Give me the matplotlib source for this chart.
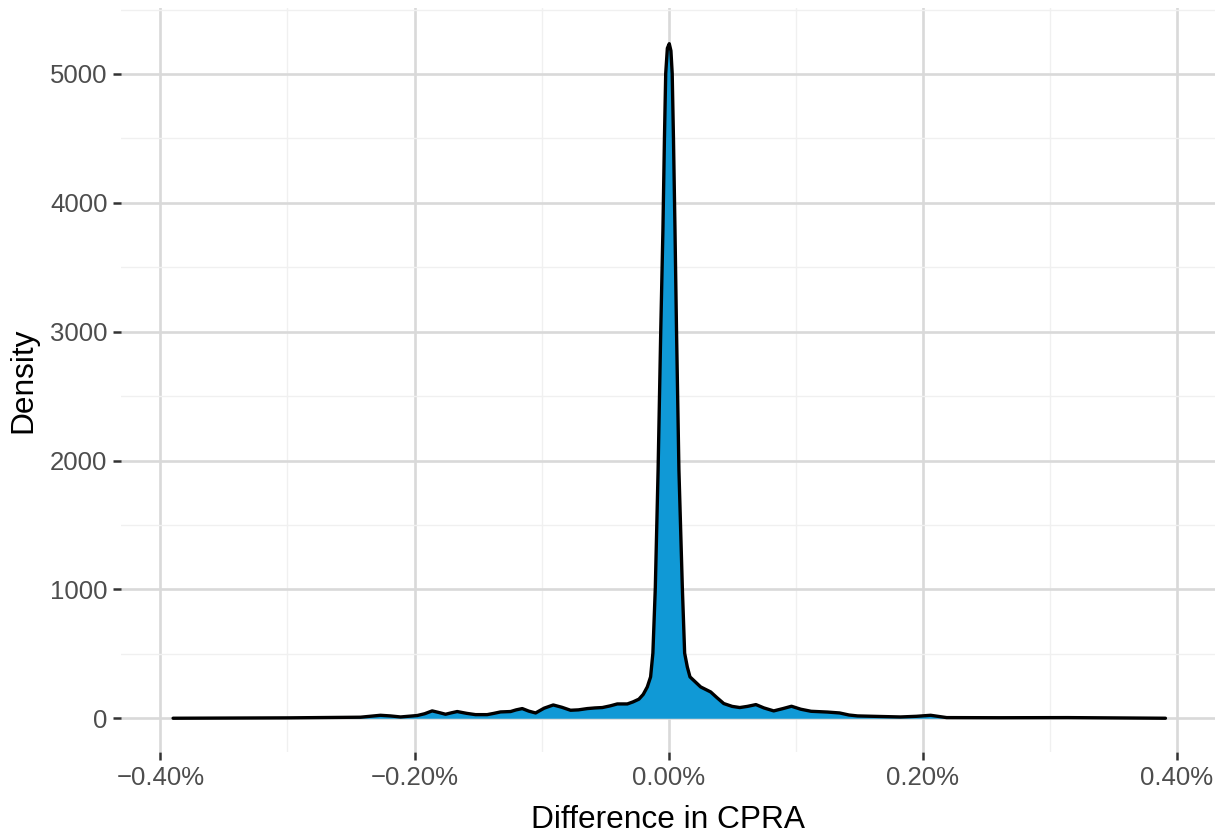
import numpy as np
import matplotlib
matplotlib.use('Agg')
import matplotlib.pyplot as plt
from matplotlib.ticker import FixedLocator, FuncFormatter

plt.rcParams['font.family'] = ['Liberation Sans', 'DejaVu Sans']

# Density curve (x in percent, y = density)
diff_pct = [-0.3900, -0.3000, -0.2425, -0.2268, -0.2190, -0.2110, -0.1979, -0.1920,
            -0.1861, -0.1810, -0.1756, -0.1710, -0.1664, -0.1590, -0.1520, -0.1428,
            -0.1375, -0.1323, -0.1244, -0.1200, -0.1152, -0.1100, -0.1047, -0.0980,
            -0.0908, -0.0840, -0.0772, -0.0710, -0.0640, -0.0580, -0.0522, -0.0460,
            -0.0404, -0.0325, -0.0280, -0.0234, -0.0200, -0.0168, -0.0142, -0.0124,
            -0.0105, -0.0083, -0.0062, -0.0045, -0.0033, -0.0023, -0.0010, 0.0005,
            0.0018, 0.0028, 0.0038, 0.0050, 0.0062, 0.0081, 0.0108, 0.0126,
            0.0147, 0.0168, 0.0252, 0.0331, 0.0380, 0.0434, 0.0500, 0.0560,
            0.0620, 0.0687, 0.0750, 0.0827, 0.0900, 0.0967, 0.1040, 0.1121,
            0.1250, 0.1346, 0.1420, 0.1487, 0.1650, 0.1824, 0.1950, 0.2062,
            0.2188, 0.2600, 0.3140, 0.3910]
density = [0, 3, 8, 23, 18, 10, 21, 35,
           57, 45, 31, 42, 52, 38, 28, 28,
           38, 49, 52, 65, 75, 55, 41, 78,
           103, 85, 62, 65, 75, 80, 83, 96,
           111, 111, 127, 148, 185, 243, 321, 505,
           1009, 1925, 3012, 3789, 4503, 5005, 5200, 5235,
           5180, 5005, 4503, 3789, 3012, 1925, 1009, 505,
           398, 321, 243, 204, 160, 114, 92, 83,
           92, 106, 80, 57, 75, 93, 70, 54,
           48, 41, 25, 18, 14, 10, 15, 23,
           5, 4, 5, 0]

x_ticks = [-0.4, -0.2, 0.0, 0.2, 0.4]
x_minor = [-0.3, -0.1, 0.1, 0.3]
y_ticks = [0, 1000, 2000, 3000, 4000, 5000]
y_minor = [500, 1500, 2500, 3500, 4500, 5500]

fig = plt.figure(figsize=(12.25, 8.35), dpi=100)
ax = fig.add_axes([121 / 1225, (835 - 752) / 835, (1215 - 121) / 1225, (752 - 8.4) / 835])

ax.fill_between(diff_pct, density, 0, color='#1099d6', linewidth=0, zorder=2)
ax.plot(diff_pct, density, color='black', linewidth=2.4, zorder=3,
        solid_joinstyle='round', solid_capstyle='round')

ax.set_xlim(-0.431, 0.430)
ax.set_ylim(-262, 5509)

ax.xaxis.set_major_locator(FixedLocator(x_ticks))
ax.xaxis.set_minor_locator(FixedLocator(x_minor))
ax.yaxis.set_major_locator(FixedLocator(y_ticks))
ax.yaxis.set_minor_locator(FixedLocator(y_minor))
ax.xaxis.set_major_formatter(FuncFormatter(lambda v, p: f"{v:.2f}%".replace('-', '\u2212')))

ax.grid(which='major', color='#d9d9d9', linewidth=1.9, zorder=0)
ax.grid(which='minor', color='#f0f0f0', linewidth=1.0, zorder=0)
ax.set_axisbelow(True)
for s in ax.spines.values():
    s.set_visible(False)

ax.tick_params(which='major', length=5.8, width=1.8, color='#333333',
               labelsize=18.5, labelcolor='#4d4d4d', pad=4)
ax.tick_params(which='minor', length=0)

ax.set_xlabel('Difference in CPRA', fontsize=22.8, labelpad=11)
ax.set_ylabel('Density', fontsize=22.8, labelpad=8)

fig.savefig('out.png', dpi=100)
